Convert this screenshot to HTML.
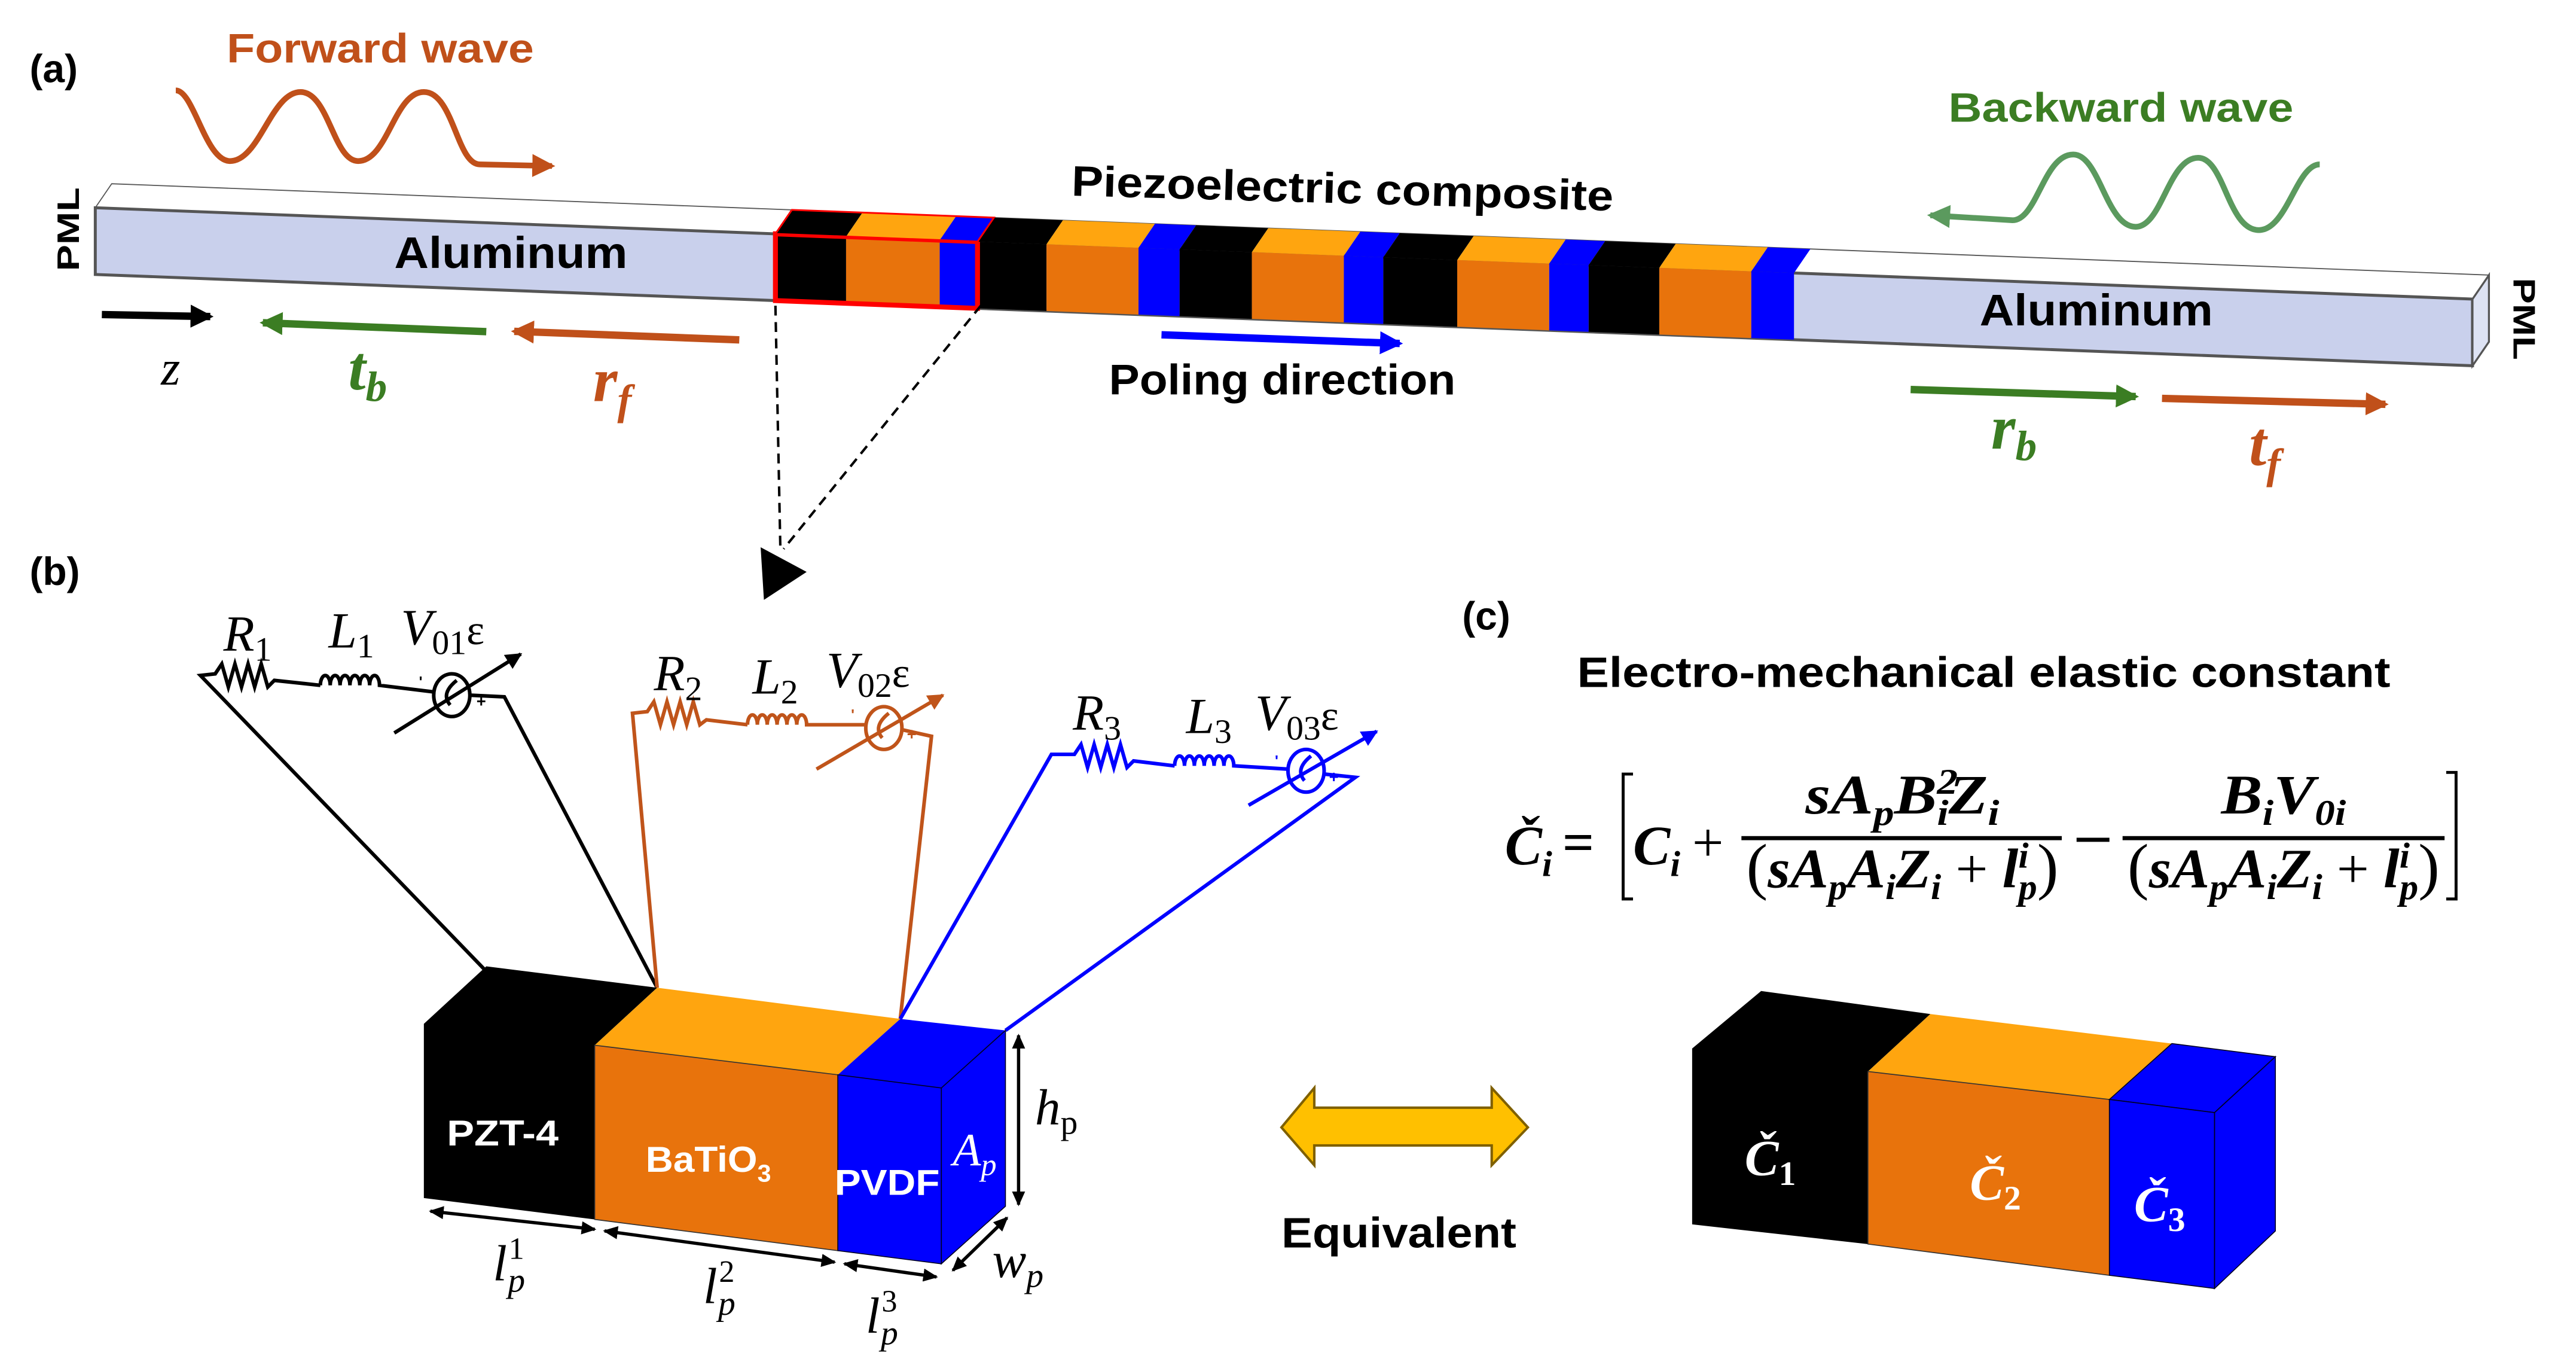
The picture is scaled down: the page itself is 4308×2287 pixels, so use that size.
<!DOCTYPE html>
<html><head><meta charset="utf-8"><style>
html,body{margin:0;padding:0;background:#fff;width:4308px;height:2287px;overflow:hidden}
svg{display:block}
.b{font-family:"Liberation Sans",sans-serif;font-weight:bold}
.m{font-family:"Liberation Serif",serif;font-style:italic}
.mb{font-family:"Liberation Serif",serif;font-style:italic;font-weight:bold}
</style></head><body>
<svg width="4308" height="2287" viewBox="0 0 1568 832.4" xmlns="http://www.w3.org/2000/svg">
<defs>
<marker id="hk" markerUnits="userSpaceOnUse" markerWidth="16" markerHeight="16" refX="12" refY="7" orient="auto"><path d="M0,0 L14,7 L0,14 z" fill="#000"/></marker>
<marker id="hg" markerUnits="userSpaceOnUse" markerWidth="16" markerHeight="16" refX="12" refY="7" orient="auto"><path d="M0,0 L14,7 L0,14 z" fill="#3b7d23"/></marker>
<marker id="hlg" markerUnits="userSpaceOnUse" markerWidth="16" markerHeight="16" refX="12" refY="7" orient="auto"><path d="M0,0 L14,7 L0,14 z" fill="#5b9a5e"/></marker>
<marker id="ho" markerUnits="userSpaceOnUse" markerWidth="16" markerHeight="16" refX="12" refY="7" orient="auto"><path d="M0,0 L14,7 L0,14 z" fill="#c0501a"/></marker>
<marker id="hb" markerUnits="userSpaceOnUse" markerWidth="16" markerHeight="16" refX="12" refY="7" orient="auto"><path d="M0,0 L14,7 L0,14 z" fill="#0000ff"/></marker>
<marker id="sk" markerUnits="userSpaceOnUse" markerWidth="12" markerHeight="12" refX="9" refY="5" orient="auto"><path d="M0,0 L10,5 L0,10 z" fill="#000"/></marker>
<marker id="so" markerUnits="userSpaceOnUse" markerWidth="12" markerHeight="12" refX="9" refY="5" orient="auto"><path d="M0,0 L10,5 L0,10 z" fill="#c0541a"/></marker>
<marker id="sb" markerUnits="userSpaceOnUse" markerWidth="12" markerHeight="12" refX="9" refY="5" orient="auto"><path d="M0,0 L10,5 L0,10 z" fill="#0000ff"/></marker>
<marker id="dk" markerUnits="userSpaceOnUse" markerWidth="10" markerHeight="10" refX="8" refY="4" orient="auto-start-reverse"><path d="M0,0 L9,4 L0,8 z" fill="#000"/></marker>
</defs>

<!-- ===== (a) ===== -->
<text x="18" y="50" class="b" font-size="24">(a)</text>
<text x="138" y="38" class="b" font-size="25" fill="#c0501a" textLength="187" lengthAdjust="spacingAndGlyphs">Forward wave</text>
<path d="M107,55 C118,55 125,98 140,98 C158,98 165,56 183,56 C200,56 203,98 218,98 C236,98 240,56 258,56 C276,56 278,100 292,100 L336,101" fill="none" stroke="#c0501a" stroke-width="3.5" marker-end="url(#ho)"/>
<text x="1186" y="74" class="b" font-size="25" fill="#3b7d23" textLength="210" lengthAdjust="spacingAndGlyphs">Backward wave</text>
<path d="M1412,100 C1398,100 1392,140 1375,140 C1356,140 1354,96 1338,96 C1320,96 1316,138 1300,138 C1282,138 1278,94 1262,94 C1244,94 1240,134 1225,134 L1175,131" fill="none" stroke="#5b9a5e" stroke-width="3.5" marker-end="url(#hlg)"/>

<g transform="matrix(1,0.0384,10,-14.6,0,124.17)">
 <rect x="58" y="0" width="1447" height="1" fill="#fff" stroke="#555" stroke-width="1.8" vector-effect="non-scaling-stroke"/>
</g>
<g transform="matrix(1,0.0384,0,1,0,124.17)">
 <rect x="58" y="0" width="1447" height="40.6" fill="#c9d0ec" stroke="#555" stroke-width="1.8"/>
</g>
<polygon points="1505,182 1515,167.4 1515,208 1505,222.6" fill="#dde2f3" stroke="#555" stroke-width="1.2"/>
<g transform="matrix(1,0.0384,0,1,0,124.17)">
 <rect x="472" y="0" width="43" height="40.6" fill="#000"/><rect x="515" y="0" width="57" height="40.6" fill="#e8730c"/><rect x="572" y="0" width="23" height="40.6" fill="#0000ff"/>
 <rect x="595" y="0" width="42" height="40.6" fill="#000"/><rect x="637" y="0" width="56" height="40.6" fill="#e8730c"/><rect x="693" y="0" width="25" height="40.6" fill="#0000ff"/>
 <rect x="718" y="0" width="44" height="40.6" fill="#000"/><rect x="762" y="0" width="56" height="40.6" fill="#e8730c"/><rect x="818" y="0" width="24" height="40.6" fill="#0000ff"/>
 <rect x="842" y="0" width="45" height="40.6" fill="#000"/><rect x="887" y="0" width="56" height="40.6" fill="#e8730c"/><rect x="943" y="0" width="24" height="40.6" fill="#0000ff"/>
 <rect x="967" y="0" width="43" height="40.6" fill="#000"/><rect x="1010" y="0" width="56" height="40.6" fill="#e8730c"/><rect x="1066" y="0" width="26" height="40.6" fill="#0000ff"/>
 <rect x="472" y="0" width="123" height="40.6" fill="none" stroke="#ff0000" stroke-width="3"/>
</g>
<g transform="matrix(1,0.0384,10,-14.6,0,124.17)">
 <rect x="472" y="0" width="43" height="1" fill="#000"/><rect x="515" y="0" width="57" height="1" fill="#ffa50f"/><rect x="572" y="0" width="23" height="1" fill="#0000ff"/>
 <rect x="595" y="0" width="42" height="1" fill="#000"/><rect x="637" y="0" width="56" height="1" fill="#ffa50f"/><rect x="693" y="0" width="25" height="1" fill="#0000ff"/>
 <rect x="718" y="0" width="44" height="1" fill="#000"/><rect x="762" y="0" width="56" height="1" fill="#ffa50f"/><rect x="818" y="0" width="24" height="1" fill="#0000ff"/>
 <rect x="842" y="0" width="45" height="1" fill="#000"/><rect x="887" y="0" width="56" height="1" fill="#ffa50f"/><rect x="943" y="0" width="24" height="1" fill="#0000ff"/>
 <rect x="967" y="0" width="43" height="1" fill="#000"/><rect x="1010" y="0" width="56" height="1" fill="#ffa50f"/><rect x="1066" y="0" width="26" height="1" fill="#0000ff"/>
 <rect x="472" y="0" width="123" height="1" fill="none" stroke="#ff0000" stroke-width="3" vector-effect="non-scaling-stroke"/>
</g>

<text class="b" font-size="19" transform="translate(48,165) rotate(-90)" textLength="51" lengthAdjust="spacingAndGlyphs">PML</text>
<text class="b" font-size="19" transform="translate(1530,169) rotate(90)" textLength="50" lengthAdjust="spacingAndGlyphs">PML</text>
<text x="240" y="163" class="b" font-size="27" textLength="142" lengthAdjust="spacingAndGlyphs">Aluminum</text>
<text x="1205" y="198" class="b" font-size="27" textLength="142" lengthAdjust="spacingAndGlyphs">Aluminum</text>
<text x="652" y="119" class="b" font-size="26" transform="rotate(1.6 652 119)" textLength="330" lengthAdjust="spacingAndGlyphs">Piezoelectric composite</text>
<text x="675" y="240" class="b" font-size="26" textLength="211" lengthAdjust="spacingAndGlyphs">Poling direction</text>

<line x1="62" y1="191.4" x2="128" y2="192.6" stroke="#000" stroke-width="4.5" marker-end="url(#hk)"/>
<line x1="296" y1="201.8" x2="160" y2="196.4" stroke="#3b7d23" stroke-width="4.5" marker-end="url(#hg)"/>
<line x1="450" y1="206.8" x2="313" y2="201.6" stroke="#c0501a" stroke-width="4.5" marker-end="url(#ho)"/>
<line x1="707" y1="203.7" x2="852" y2="209" stroke="#0000ff" stroke-width="4.5" marker-end="url(#hb)"/>
<line x1="1163" y1="237" x2="1300" y2="241.3" stroke="#3b7d23" stroke-width="4.5" marker-end="url(#hg)"/>
<line x1="1316" y1="242.4" x2="1452" y2="246" stroke="#c0501a" stroke-width="4.5" marker-end="url(#ho)"/>

<text x="98" y="234" class="m" font-size="30">z</text>
<text x="212" y="237" class="mb" font-size="38" fill="#3b7d23">t<tspan font-size="26" dy="7">b</tspan></text>
<text x="361" y="244" class="mb" font-size="38" fill="#c0501a">r<tspan font-size="26" dy="8">f</tspan></text>
<text x="1212" y="273" class="mb" font-size="38" fill="#3b7d23">r<tspan font-size="26" dy="7">b</tspan></text>
<text x="1369" y="283" class="mb" font-size="38" fill="#c0501a">t<tspan font-size="26" dy="8">f</tspan></text>

<line x1="472" y1="186" x2="475" y2="334" stroke="#000" stroke-width="1.5" stroke-dasharray="6,4"/>
<line x1="597" y1="186" x2="477" y2="334" stroke="#000" stroke-width="1.5" stroke-dasharray="6,4"/>
<polygon points="463,333 491,348 465,365" fill="#000"/>

<!-- ===== (b) ===== -->
<text x="18" y="356" class="b" font-size="24">(b)</text>

<g fill="none" stroke="#000" stroke-width="2.2">
 <polyline points="295,590 122,411 131,410 135,404 139,418 143,404 147,418 151,404 155,418 159,404 163,418 167,414 195,417"/>
 <path d="M195,417 a3,6 0 1 1 6,0 a3,6 0 1 1 6,0 a3,6 0 1 1 6,0 a3,6 0 1 1 6,0 a3,6 0 1 1 6,0 a3,6 0 1 1 6,0 L264,421"/>
 <ellipse cx="275" cy="423" rx="11" ry="13"/>
 <polyline points="286,423 307,424 400,601"/>
 <line x1="240" y1="446" x2="317" y2="398" marker-end="url(#sk)"/>
 <path d="M278,414 q-10,8 -4,15"/>
</g>
<text x="255" y="418" font-size="9" class="b">'</text><text x="290" y="430" font-size="10" class="b">+</text>
<text x="136" y="396" class="m" font-size="31">R<tspan font-size="21" dy="6" font-style="normal">1</tspan></text>
<text x="200" y="394" class="m" font-size="31">L<tspan font-size="21" dy="6" font-style="normal">1</tspan></text>
<text x="244" y="392" class="m" font-size="31">V<tspan font-size="21" dy="6" font-style="normal">01</tspan><tspan font-size="26" dy="-6" font-style="normal">ε</tspan></text>

<g fill="none" stroke="#c0541a" stroke-width="2.2">
 <polyline points="400,601 385,434 394,433 398,427 402,441 406,427 410,441 414,427 418,441 422,427 426,441 430,438 455,441"/>
 <path d="M455,441 a3,6 0 1 1 6,0 a3,6 0 1 1 6,0 a3,6 0 1 1 6,0 a3,6 0 1 1 6,0 a3,6 0 1 1 6,0 a3,6 0 1 1 6,0 L527,441"/>
 <ellipse cx="538" cy="443" rx="11" ry="13"/>
 <polyline points="549,444 567,448 548,620"/>
 <line x1="497" y1="468" x2="574" y2="423" marker-end="url(#so)"/>
 <path d="M541,434 q-10,8 -4,15"/>
</g>
<text x="518" y="438" font-size="9" class="b" fill="#c0541a">'</text><text x="552" y="450" font-size="10" class="b" fill="#c0541a">+</text>
<text x="398" y="420" class="m" font-size="31">R<tspan font-size="21" dy="6" font-style="normal">2</tspan></text>
<text x="458" y="422" class="m" font-size="31">L<tspan font-size="21" dy="6" font-style="normal">2</tspan></text>
<text x="503" y="418" class="m" font-size="31">V<tspan font-size="21" dy="6" font-style="normal">02</tspan><tspan font-size="26" dy="-6" font-style="normal">ε</tspan></text>

<g fill="none" stroke="#0000ff" stroke-width="2.2">
 <polyline points="548,620 640,459 654,459 658,453 662,467 666,453 670,467 674,453 678,467 682,453 686,467 690,463 715,466"/>
 <path d="M715,466 a3,6 0 1 1 6,0 a3,6 0 1 1 6,0 a3,6 0 1 1 6,0 a3,6 0 1 1 6,0 a3,6 0 1 1 6,0 a3,6 0 1 1 6,0 L784,468"/>
 <ellipse cx="795" cy="469" rx="11" ry="13"/>
 <polyline points="806,471 825,473 612,627"/>
 <line x1="760" y1="490" x2="838" y2="445" marker-end="url(#sb)"/>
 <path d="M798,460 q-10,8 -4,15"/>
</g>
<text x="776" y="466" font-size="9" class="b" fill="#0000ff">'</text><text x="809" y="476" font-size="10" class="b" fill="#0000ff">+</text>
<text x="653" y="444" class="m" font-size="31">R<tspan font-size="21" dy="6" font-style="normal">3</tspan></text>
<text x="722" y="446" class="m" font-size="31">L<tspan font-size="21" dy="6" font-style="normal">3</tspan></text>
<text x="764" y="444" class="m" font-size="31">V<tspan font-size="21" dy="6" font-style="normal">03</tspan><tspan font-size="26" dy="-6" font-style="normal">ε</tspan></text>

<polygon points="258,623 296,588 400,601 362,636 362,742 258,729" fill="#000"/>
<polygon points="362,636 400,601 548,620 510,654" fill="#ffa50f"/>
<polygon points="362,636 510,654 510,761 362,742" fill="#e8730c" stroke="#333" stroke-width="0.6"/>
<polygon points="510,654 548,620 612,627 573,662" fill="#0000ff"/>
<polygon points="510,654 573,662 573,769 510,761" fill="#0000ff" stroke="#002" stroke-width="0.6"/>
<polygon points="573,662 612,627 612,734 573,769" fill="#0000ff" stroke="#002" stroke-width="0.6"/>
<text x="272" y="697" class="b" font-size="22" fill="#fff" textLength="68" lengthAdjust="spacingAndGlyphs">PZT-4</text>
<text x="393" y="713" class="b" font-size="22" fill="#fff" textLength="68" lengthAdjust="spacingAndGlyphs">BaTiO</text><text x="461" y="719" class="b" font-size="15" fill="#fff">3</text>
<text x="508" y="727" class="b" font-size="22" fill="#fff" textLength="64" lengthAdjust="spacingAndGlyphs">PVDF</text>
<text x="580" y="709" class="m" font-size="28" fill="#fff">A<tspan font-size="19" dy="6">p</tspan></text>

<g stroke="#000" stroke-width="2" fill="none">
 <line x1="620" y1="630" x2="620" y2="733" marker-start="url(#dk)" marker-end="url(#dk)"/>
 <line x1="262" y1="737" x2="362" y2="748" marker-start="url(#dk)" marker-end="url(#dk)"/>
 <line x1="368" y1="749" x2="508" y2="768" marker-start="url(#dk)" marker-end="url(#dk)"/>
 <line x1="514" y1="769" x2="570" y2="777" marker-start="url(#dk)" marker-end="url(#dk)"/>
 <line x1="580" y1="773" x2="613" y2="741" marker-start="url(#dk)" marker-end="url(#dk)"/>
</g>
<text x="630" y="684" class="m" font-size="31">h<tspan font-size="21" dy="6" font-style="normal">p</tspan></text>
<text x="300" y="779" class="m" font-size="31">l<tspan font-size="19" dx="1" dy="-13" font-style="normal">1</tspan><tspan font-size="21" dx="-10" dy="20">p</tspan></text>
<text x="428" y="793" class="m" font-size="31">l<tspan font-size="19" dx="1" dy="-13" font-style="normal">2</tspan><tspan font-size="21" dx="-10" dy="20">p</tspan></text>
<text x="527" y="811" class="m" font-size="31">l<tspan font-size="19" dx="1" dy="-13" font-style="normal">3</tspan><tspan font-size="21" dx="-10" dy="20">p</tspan></text>
<text x="604" y="777" class="m" font-size="31">w<tspan font-size="21" dy="6">p</tspan></text>

<polygon points="780,686 800,662 800,674 908,674 908,662 930,686 908,709 908,697 800,697 800,709" fill="#ffc000" stroke="#7f6000" stroke-width="1.5"/>
<text x="780" y="759" class="b" font-size="26" textLength="143" lengthAdjust="spacingAndGlyphs">Equivalent</text>

<!-- ===== (c) ===== -->
<text x="890" y="383" class="b" font-size="24">(c)</text>
<text x="960" y="418" class="b" font-size="26" textLength="495" lengthAdjust="spacingAndGlyphs">Electro-mechanical elastic constant</text>

<g class="mb" font-size="34">
 <text x="916" y="526">Č<tspan font-size="22" dy="7">i</tspan></text>
 <text x="951" y="524" font-style="normal">=</text>
 <text x="994" y="526">C<tspan font-size="22" dy="7">i</tspan></text>
 <text x="1030" y="524" font-style="normal" font-weight="normal">+</text>
 <text x="1158" y="495" text-anchor="middle" textLength="118" lengthAdjust="spacingAndGlyphs">sA<tspan font-size="22" dy="7">p</tspan><tspan dy="-7">B</tspan><tspan font-size="22" dy="-12">2</tspan><tspan font-size="22" dx="-11" dy="19">i</tspan><tspan dy="-7">Z</tspan><tspan font-size="22" dy="7">i</tspan></text>
 <text x="1158" y="540" text-anchor="middle" textLength="190" lengthAdjust="spacingAndGlyphs"><tspan font-weight="normal" font-style="normal" font-size="38">(</tspan>sA<tspan font-size="22" dy="7">p</tspan><tspan dy="-7">A</tspan><tspan font-size="22" dy="7">i</tspan><tspan dy="-7">Z</tspan><tspan font-size="22" dy="7">i</tspan><tspan dy="-7" font-style="normal" font-weight="normal"> + </tspan>l<tspan font-size="22" dy="-12">i</tspan><tspan font-size="22" dx="-6" dy="19">p</tspan><tspan dy="-7" font-weight="normal" font-style="normal" font-size="38">)</tspan></text>
 <text x="1390" y="495" text-anchor="middle" textLength="76" lengthAdjust="spacingAndGlyphs">B<tspan font-size="22" dy="7">i</tspan><tspan dy="-7">V</tspan><tspan font-size="22" dy="7">0i</tspan></text>
 <text x="1390" y="540" text-anchor="middle" textLength="190" lengthAdjust="spacingAndGlyphs"><tspan font-weight="normal" font-style="normal" font-size="38">(</tspan>sA<tspan font-size="22" dy="7">p</tspan><tspan dy="-7">A</tspan><tspan font-size="22" dy="7">i</tspan><tspan dy="-7">Z</tspan><tspan font-size="22" dy="7">i</tspan><tspan dy="-7" font-style="normal" font-weight="normal"> + </tspan>l<tspan font-size="22" dy="-12">i</tspan><tspan font-size="22" dx="-6" dy="19">p</tspan><tspan dy="-7" font-weight="normal" font-style="normal" font-size="38">)</tspan></text>
</g>
<line x1="1060" y1="510" x2="1255" y2="510" stroke="#000" stroke-width="2.5"/>
<line x1="1264" y1="511" x2="1284" y2="511" stroke="#000" stroke-width="2.5"/>
<line x1="1292" y1="510" x2="1488" y2="510" stroke="#000" stroke-width="2.5"/>
<polyline points="994,471 988,471 988,547 994,547" fill="none" stroke="#000" stroke-width="1.8"/>
<polyline points="1489,470 1495,470 1495,547 1489,547" fill="none" stroke="#000" stroke-width="1.8"/>

<polygon points="1030,638 1072,603 1175,617 1137,652 1137,757 1030,745" fill="#000"/>
<polygon points="1137,652 1175,617 1322,635 1284,669" fill="#ffa50f"/>
<polygon points="1137,652 1284,669 1284,776 1137,757" fill="#e8730c" stroke="#333" stroke-width="0.6"/>
<polygon points="1284,669 1322,635 1385,643 1348,677" fill="#0000ff" stroke="#002" stroke-width="0.6"/>
<polygon points="1284,669 1348,677 1348,784 1284,776" fill="#0000ff" stroke="#002" stroke-width="0.6"/>
<polygon points="1348,677 1385,643 1385,749 1348,784" fill="#0000ff" stroke="#002" stroke-width="0.6"/>
<text x="1062" y="715" class="mb" font-size="31" fill="#fff">Č<tspan font-size="21" dy="6" font-style="normal">1</tspan></text>
<text x="1199" y="730" class="mb" font-size="31" fill="#fff">Č<tspan font-size="21" dy="6" font-style="normal">2</tspan></text>
<text x="1299" y="743" class="mb" font-size="31" fill="#fff">Č<tspan font-size="21" dy="6" font-style="normal">3</tspan></text>
</svg>
</body></html>
